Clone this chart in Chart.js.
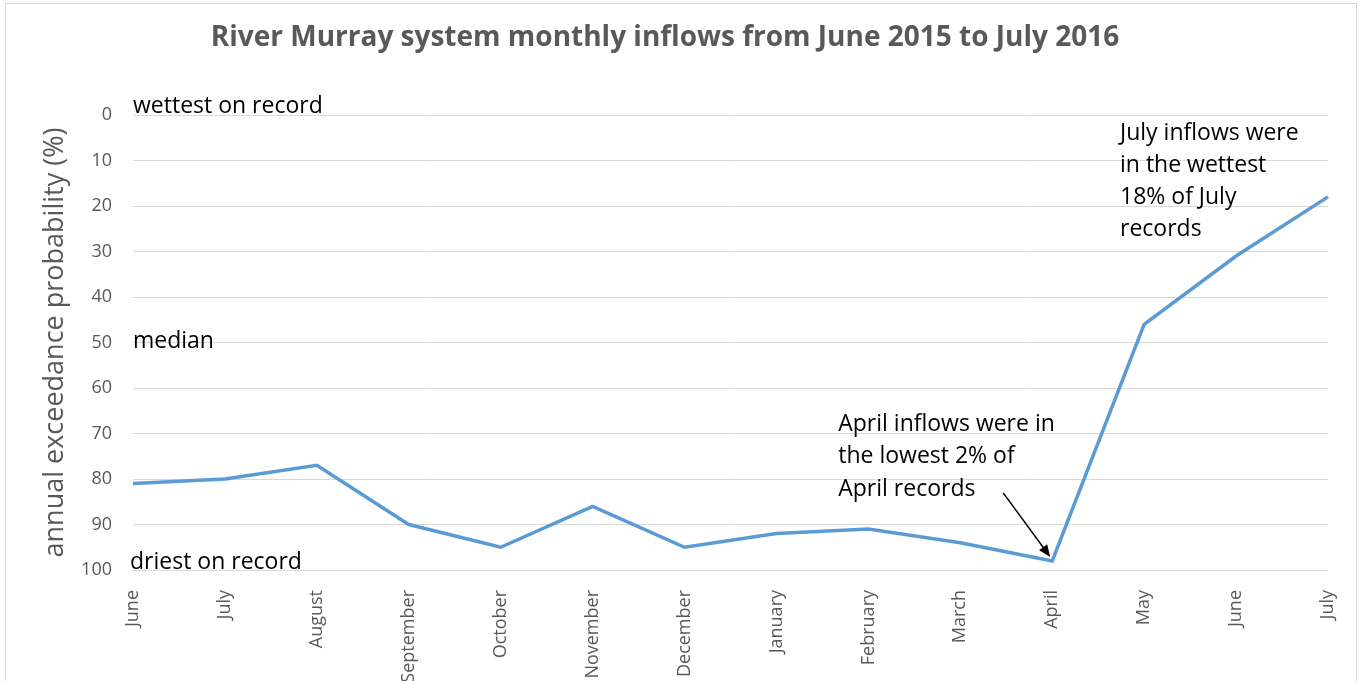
<!DOCTYPE html>
<html>
<head>
<meta charset="utf-8">
<script src="https://cdn.jsdelivr.net/npm/chart.js@4.4.1/dist/chart.umd.min.js"></script>
<style>
  body { margin: 0; background: #fff; }
  #wrap { width: 1362px; height: 681px; position: relative; }
</style>
</head>
<body>
<div id="wrap"><canvas id="grafico"></canvas></div>
<script>
// meses do eixo x (junho 2015 a julho 2016)
const meses = ['June', 'July', 'August', 'September', 'October', 'November', 'December',
  'January', 'February', 'March', 'April', 'May', 'June', 'July'];

// probabilidade de excedência anual (%)
const probabilidade = [81, 80, 77, 90, 95, 86, 95, 92, 91, 94, 98, 46, 31, 18];

const ticksY = [0, 10, 20, 30, 40, 50, 60, 70, 80, 90, 100];

const titulo = 'River Murray system monthly inflows from June 2015 to July 2016';
const tituloY = 'annual exceedance probability (%)';

const notaAbril = ['April inflows were in', 'the lowest 2% of', 'April records'];
const notaJulho = ['July inflows were', 'in the wettest', '18% of July', 'records'];

const fonteBase = '"Open Sans", Lato, sans-serif';
const cinza = '#595959';

// textos e seta desenhados por cima do gráfico
const anotacoes = {
  id: 'anotacoes',
  beforeDraw(chart) {
    const ctx = chart.ctx;
    ctx.save();
    ctx.strokeStyle = '#d9d9d9';
    ctx.lineWidth = 1;
    ctx.strokeRect(5.5, 3.5, chart.width - 11, chart.height + 10);
    ctx.restore();
  },
  afterDatasetsDraw(chart) {
    const ctx = chart.ctx;
    const sx = chart.scales.x;
    const sy = chart.scales.y;
    ctx.save();
    ctx.fillStyle = '#000';
    ctx.font = '23px ' + fonteBase;
    ctx.textAlign = 'left';
    ctx.textBaseline = 'alphabetic';

    const esq = sx.getPixelForValue(0);
    ctx.fillText('wettest on record', esq, sy.getPixelForValue(0) - 2);
    ctx.textBaseline = 'middle';
    ctx.fillText('median', esq, sy.getPixelForValue(50) - 1);
    ctx.textBaseline = 'alphabetic';
    ctx.fillText('driest on record', esq - 3, sy.getPixelForValue(100) - 1);

    // nota de abril
    const xAbril = sx.getPixelForValue(10);
    const yAbril = sy.getPixelForValue(probabilidade[10]);
    ctx.textBaseline = 'middle';
    notaAbril.forEach((linha, i) => {
      ctx.fillText(linha, xAbril - 214, sy.getPixelForValue(67.5) + 2 + i * 32.5);
    });

    // nota de julho
    const xJulho = sx.getPixelForValue(13);
    notaJulho.forEach((linha, i) => {
      ctx.fillText(linha, xJulho - 208, sy.getPixelForValue(3.7) + 2 + i * 32);
    });

    // seta apontando para abril
    const x1 = xAbril - 49, y1 = yAbril - 68;
    const x2 = xAbril - 2, y2 = yAbril - 4;
    const ang = Math.atan2(y2 - y1, x2 - x1);
    ctx.strokeStyle = '#000';
    ctx.lineWidth = 1.5;
    ctx.beginPath();
    ctx.moveTo(x1, y1);
    ctx.lineTo(x2 - 8 * Math.cos(ang), y2 - 8 * Math.sin(ang));
    ctx.stroke();
    ctx.beginPath();
    ctx.moveTo(x2, y2);
    ctx.lineTo(x2 - 12 * Math.cos(ang) + 5 * Math.sin(ang), y2 - 12 * Math.sin(ang) - 5 * Math.cos(ang));
    ctx.lineTo(x2 - 12 * Math.cos(ang) - 5 * Math.sin(ang), y2 - 12 * Math.sin(ang) + 5 * Math.cos(ang));
    ctx.closePath();
    ctx.fillStyle = '#000';
    ctx.fill();
    ctx.restore();
  }
};

const grafico = new Chart(document.getElementById('grafico'), {
  type: 'line',
  data: {
    labels: meses,
    datasets: [{
      label: 'inflows',
      data: probabilidade,
      borderColor: '#5B9BD5',
      borderWidth: 3.5,
      pointRadius: 0,
      tension: 0,
      fill: false
    }]
  },
  options: {
    responsive: true,
    maintainAspectRatio: false,
    animation: false,
    layout: { padding: { left: 2, right: 34, top: 0, bottom: 0 } },
    plugins: {
      legend: { display: false },
      tooltip: { enabled: false },
      title: {
        display: true,
        text: titulo,
        color: cinza,
        font: { family: fonteBase, size: 28, weight: 'bold', lineHeight: 1.2 },
        padding: { top: 21, bottom: 60.4 }
      }
    },
    scales: {
      x: {
        offset: false,
        grid: { display: false },
        border: { display: false },
        ticks: {
          color: cinza,
          font: { family: fonteBase, size: 18 },
          minRotation: 90,
          maxRotation: 90,
          autoSkip: false,
          padding: 12
        },
        afterFit(s) { s.height = 111; }
      },
      y: {
        reverse: true,
        min: 0,
        max: 100,
        afterBuildTicks(s) { s.ticks = ticksY.map(v => ({ value: v })); },
        grid: { color: '#d9d9d9', lineWidth: 1, drawTicks: false },
        border: { display: false },
        ticks: {
          color: cinza,
          font: { family: fonteBase, size: 18 },
          padding: 21
        },
        title: {
          display: true,
          text: tituloY,
          color: cinza,
          font: { family: fonteBase, size: 27 },
          padding: { top: 37, bottom: 0 }
        },
        afterFit(s) { s.width = 131; }
      }
    }
  },
  plugins: [anotacoes]
});
</script>
</body>
</html>
